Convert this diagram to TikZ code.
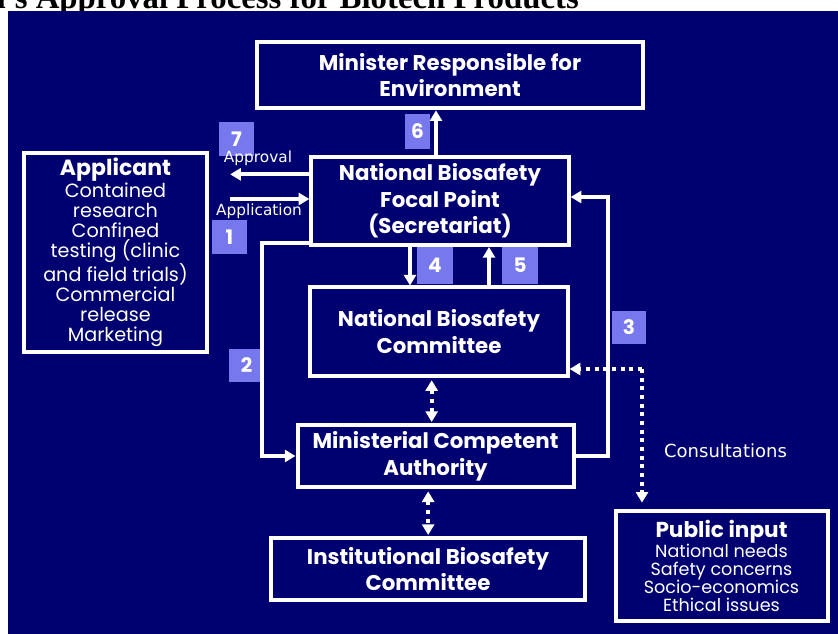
\documentclass[tikz,border=0pt]{standalone}
\usepackage{fontspec}
\setmainfont{Poppins}
\newfontfamily\labelfont{DejaVu Sans}
\newfontfamily\headfont{Liberation Serif}
\usetikzlibrary{arrows.meta}

\definecolor{navy}{RGB}{0,0,112}
\definecolor{tag}{RGB}{119,119,238}

\tikzstyle{box}=[draw=white,line width=3pt,fill=navy,text=white,align=center,inner sep=2pt]
\tikzstyle{title}=[font=\bfseries\fontsize{16}{20}\selectfont]
\tikzstyle{badge}=[fill=tag,text=white,font=\bfseries\fontsize{15}{15}\selectfont,minimum width=26pt,minimum height=25pt,inner sep=0pt]
\tikzstyle{lbl}=[text=white,inner sep=0pt,font=\labelfont\fontsize{11.5}{12}\selectfont]
\tikzstyle{arr}=[draw=white,line width=3pt,-{Triangle[length=8pt,width=9pt]}]
\tikzstyle{dotarr}=[arr,dash pattern=on 3pt off 3.5pt]
\tikzstyle{dotboth}=[dotarr,{Triangle[length=8pt,width=9pt]}-{Triangle[length=8pt,width=9pt]},shorten <=2pt,shorten >=1pt]

\begin{document}
\begin{tikzpicture}[x=0.75pt,y=-0.75pt]
  \useasboundingbox (0,0) rectangle (838,634);
  \clip (0,0) rectangle (838,634);
  % heading, cut off at the top
  \node[anchor=base east,inner sep=0pt,font=\headfont\bfseries\fontsize{24.6}{25}\selectfont] (head) at (579,9) {a's Approval Process for Biotech Products};
  \fill[navy] (8,11) rectangle (838,634);

  % the bodies
  \node[box,title,minimum width=290pt,minimum height=50pt] (minister) at (450,75) {Minister Responsible for\\Environment};
  \node[box,title,minimum width=193pt,minimum height=66pt] (focal) at (440,201) {National Biosafety\\Focal Point\\(Secretariat)};
  \node[box,title,minimum width=193pt,minimum height=66pt] (nbc) at (439,331.5) {National Biosafety\\Committee};
  \node[box,title,minimum width=207pt,minimum height=46pt] (mca) at (435.5,456) {Ministerial Competent\\Authority};
  \node[box,title,minimum width=236pt,minimum height=46pt] (ibc) at (428,569) {Institutional Biosafety\\Committee};
  \node[box,minimum width=137pt,minimum height=149pt,font=\fontsize{14.4}{15}\selectfont] (applicant) at (115.5,252.5)
    {{\bfseries\fontsize{16.5}{15}\selectfont Applicant}\\Contained\\research\\Confined\\testing (clinic\\and field trials)\\Commercial\\release\\Marketing};
  \node[box,minimum width=159pt,minimum height=82pt,font=\fontsize{13.2}{13.5}\selectfont] (public) at (721.5,566)
    {{\bfseries\fontsize{16.2}{14}\selectfont Public input}\\National needs\\Safety concerns\\Socio-economics\\Ethical issues};

  % step numbers
  \foreach \n/\x/\y in {7/236.5/139, 1/229.5/237, 2/246.5/365.5, 3/629/327.5}
    \node[badge] (b\n) at (\x,\y) {\n};
  \node[badge,minimum width=19pt,minimum height=26pt] (b6) at (417.5,131.5) {6};
  \node[badge,minimum width=27pt,minimum height=28pt] (b4) at (435,265.5) {4};
  \node[badge,minimum width=27pt,minimum height=28pt] (b5) at (520,265.5) {5};

  % approval and application
  \draw[arr,shorten >=16pt] ([yshift=20pt]focal.west) -- ([yshift=20pt]focal.west -| applicant.east);
  \draw[arr,shorten <=16pt] ([yshift=1.5pt]focal.west -| applicant.east) -- ([yshift=1.5pt]focal.west);
  \node[lbl] (approval) at (258,158) {Approval};
  \node[lbl] (application) at (259,211) {Application};

  % up to the minister
  \draw[arr] ([xshift=-3pt]focal.north) -- ([xshift=-3pt]focal.north |- minister.south);
  % to the authority and back
  \draw[arr] ([yshift=-31.5pt]focal.west) -- ++(-47,0) |- (mca.west);
  \draw[arr] (mca.east) -- ++(32,0) |- ([yshift=3pt]focal.east);
  % to the committee and back
  \draw[arr] ([xshift=-22.5pt]focal.south) -- ([xshift=-22.5pt]focal.south |- nbc.north);
  \draw[arr] ([xshift=36.75pt]focal.south |- nbc.north) -- ([xshift=36.75pt]focal.south);

  % consultations
  \coordinate (cons) at (642,369);
  \draw[dotarr] (cons) -- (cons -| nbc.east);
  \draw[dotarr,shorten >=5pt] (cons) -- (cons |- public.north);
  \node[lbl,font=\labelfont\fontsize{13.5}{14}\selectfont] (consult) at (725.5,451) {Consultations};

  \foreach \source/\dest in {nbc/mca, mca/ibc}
    \draw[dotboth] ([xshift=-5.5pt]\source.south) -- ([xshift=-5.5pt]\source.south |- \dest.north);
\end{tikzpicture}
\end{document}
